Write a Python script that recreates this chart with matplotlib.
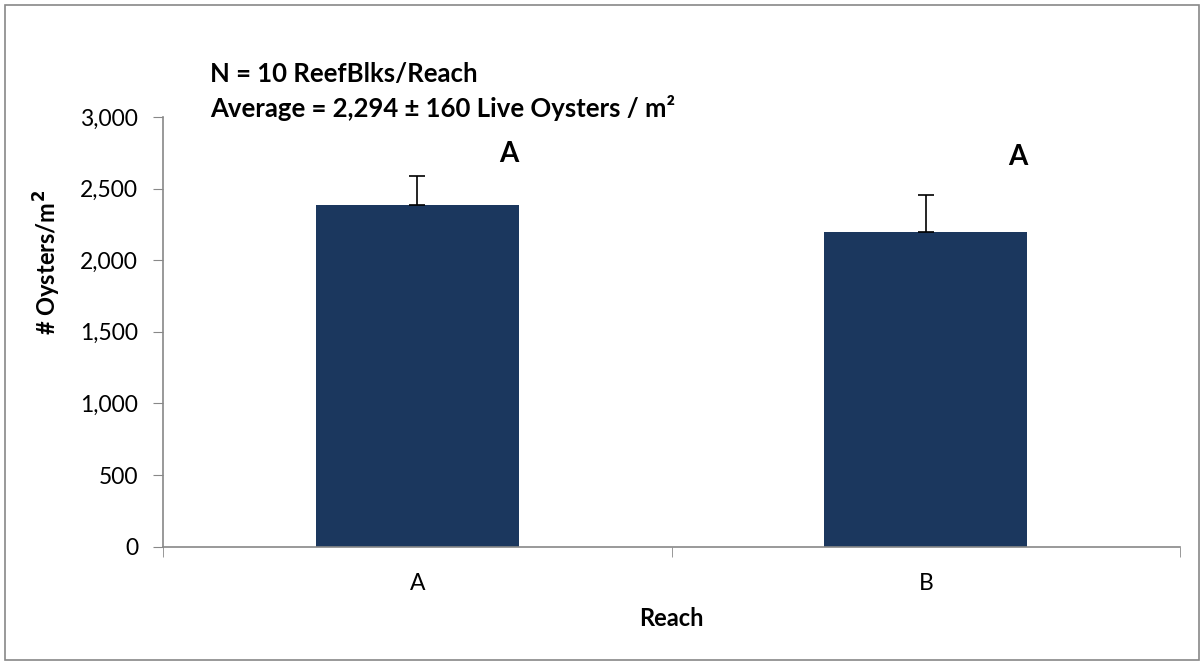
import numpy as np
import matplotlib.pyplot as plt
from matplotlib.patches import Rectangle

# Data
reaches = ['A', 'B']
oysters_m2 = [2387, 2199]
oysters_err = [202, 257]
sig_letters = ['A', 'A']
sig_letter_y = [2740, 2720]

plt.rcParams['font.family'] = ['Lato', 'DejaVu Sans']

fig = plt.figure(figsize=(12.04, 6.65), dpi=100)
ax = fig.add_axes([0.1354, 0.178, 0.8447, 0.646])

x = np.arange(len(reaches))
bar_color = '#1b375e'
ax.bar(x, oysters_m2, width=0.4, color=bar_color, zorder=2)
ax.errorbar(x, oysters_m2, yerr=[np.zeros(len(x)), oysters_err], fmt='none',
            ecolor='black', elinewidth=1.2, capsize=6, capthick=1.2, zorder=3)

for i, letter in enumerate(sig_letters):
    ax.text(x[i] + 0.18, sig_letter_y[i], letter, ha='center', va='center',
            fontsize=20, fontweight='bold')

ax.set_xlim(-0.5, 1.5)
ax.set_ylim(0, 3000)
ax.set_yticks(np.arange(0, 3001, 500))
ax.set_yticklabels([f'{v:,}' for v in range(0, 3001, 500)])
ax.set_xticks(x)
ax.set_xticklabels(reaches)
ax.set_xticks([-0.5, 0.5, 1.5], minor=True)
ax.tick_params(axis='x', which='major', length=0, pad=19, labelsize=16.5)
ax.tick_params(axis='x', which='minor', length=7, color='#888888', direction='out')
ax.tick_params(axis='y', length=7, color='#888888', labelsize=16.5, pad=11)

for side in ['top', 'right']:
    ax.spines[side].set_visible(False)
for side in ['left', 'bottom']:
    ax.spines[side].set_color('#888888')
    ax.spines[side].set_linewidth(1.2)

ax.set_xlabel('Reach', fontsize=17, fontweight='bold', labelpad=9)
ax.set_ylabel('# Oysters/m$^{\\mathbf{2}}$', fontsize=17, fontweight='bold')
ax.yaxis.set_label_coords(-0.098, 0.661)

fig.text(210 / 1204, 1 - 82 / 665, 'N = 10 ReefBlks/Reach', fontsize=18.5,
         fontweight='bold', va='baseline')
fig.text(210 / 1204, 1 - 117 / 665, 'Average = 2,294 \u00b1 160 Live Oysters / m\u00b2',
         fontsize=18.5, fontweight='bold', va='baseline')

# grey border round the whole chart
fig.patches.append(Rectangle((0.004, 0.007), 0.992, 0.986, transform=fig.transFigure,
                             fill=False, edgecolor='#888888', linewidth=1.2))

fig.savefig('out.png', dpi=100)
